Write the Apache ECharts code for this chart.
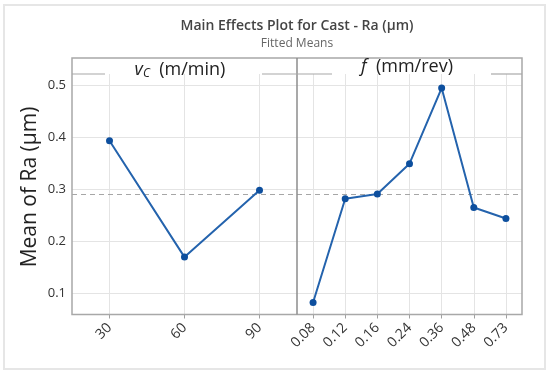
<!DOCTYPE html>
<html><head><meta charset="utf-8">
<script src="https://cdn.jsdelivr.net/npm/echarts@6/dist/echarts.min.js"></script>
<style>html,body{margin:0;padding:0;background:#fff}#c{width:550px;height:375px}</style>
</head><body><div id="c"></div>
<script>
const vcCategories = ['30', '60', '90'];
const vcMeans = [0.393, 0.170, 0.298];
const fCategories = ['0.08', '0.12', '0.16', '0.24', '0.36', '0.48', '0.73'];
const fMeans = [0.083, 0.282, 0.291, 0.349, 0.494, 0.265, 0.244];
const grandMean = 0.287;
const yTicks = [0.1, 0.2, 0.3, 0.4, 0.5];

const FONT = '"Open Sans", "Noto Sans", sans-serif';
const GRID_COLOR = '#e4e4e4';
const FRAME = '#a8a8a8';

function gridLines(categories) {
  const d = [];
  categories.forEach(c => d.push({ xAxis: c, lineStyle: { color: GRID_COLOR, width: 1, type: 'solid' } }));
  yTicks.forEach(v => d.push({ yAxis: v, lineStyle: { color: GRID_COLOR, width: 1, type: 'solid' } }));
  d.push({ yAxis: grandMean, lineStyle: { color: '#a6a6a6', width: 1.2, type: [5, 4] } });
  return d;
}

function xAxisFor(gi, cats) {
  return {
    type: 'category', gridIndex: gi, data: cats, boundaryGap: true,
    axisLine: { show: false },
    axisTick: { show: true, alignWithLabel: true, length: 4, lineStyle: { color: '#a0a0a0' } },
    axisLabel: { rotate: 45, fontSize: 14, color: '#333', fontFamily: FONT, margin: 11 },
    splitLine: { show: false }
  };
}
function yAxisFor(gi, showLabels) {
  return {
    type: 'value', gridIndex: gi, min: 0.06, max: 0.521, splitNumber: 5,
    axisLine: { show: false }, axisTick: { show: false },
    axisLabel: { show: showLabels, fontSize: 13, color: '#333', fontFamily: FONT, margin: 6,
      showMinLabel: false, showMaxLabel: false, formatter: v => v.toFixed(1) },
    splitLine: { show: false }
  };
}
function seriesFor(i, data, cats) {
  return {
    type: 'line', xAxisIndex: i, yAxisIndex: i, data: data, z: 3,
    symbol: 'circle', symbolSize: 7,
    lineStyle: { color: '#2463ad', width: 2 },
    itemStyle: { color: '#0d4f9e' },
    silent: true,
    markLine: { silent: true, z: 1, symbol: ['none', 'none'], label: { show: false }, animation: false,
      data: gridLines(cats) }
  };
}

const chart = echarts.init(document.getElementById('c'), null, { renderer: 'canvas' });
chart.setOption({
  animation: false,
  backgroundColor: '#fff',
  grid: [
    { left: 72, right: 253, top: 74, bottom: 60.5, show: false },
    { left: 297, right: 28, top: 74, bottom: 60.5, show: false }
  ],
  xAxis: [xAxisFor(0, vcCategories), xAxisFor(1, fCategories)],
  yAxis: [yAxisFor(0, true), yAxisFor(1, false)],
  series: [seriesFor(0, vcMeans, vcCategories), seriesFor(1, fMeans, fCategories)],
  graphic: [
    { type: 'rect', silent: true, z: -1, shape: { x: 4, y: 5, width: 541, height: 364 },
      style: { fill: 'none', stroke: '#e6e6e6', lineWidth: 2 } },
    { type: 'rect', silent: true, z: 10, shape: { x: 72, y: 58, width: 450, height: 256.5 },
      style: { fill: 'none', stroke: FRAME, lineWidth: 1.5 } },
    { type: 'line', silent: true, z: 10, shape: { x1: 297, y1: 58, x2: 297, y2: 314.5 },
      style: { stroke: '#8c8c8c', lineWidth: 1.5 } },
    { type: 'line', silent: true, z: 10, shape: { x1: 72, y1: 74, x2: 105, y2: 74 }, style: { stroke: FRAME, lineWidth: 1.2 } },
    { type: 'line', silent: true, z: 10, shape: { x1: 262, y1: 74, x2: 297, y2: 74 }, style: { stroke: FRAME, lineWidth: 1.2 } },
    { type: 'line', silent: true, z: 10, shape: { x1: 297, y1: 74, x2: 332, y2: 74 }, style: { stroke: FRAME, lineWidth: 1.2 } },
    { type: 'line', silent: true, z: 10, shape: { x1: 491, y1: 74, x2: 522, y2: 74 }, style: { stroke: FRAME, lineWidth: 1.2 } },
    { type: 'text', silent: true, z: 11, x: 297, y: 26,
      style: { text: 'Main Effects Plot for Cast - Ra (µm)', fill: '#444', font: '600 14px ' + FONT, align: 'center', verticalAlign: 'middle' } },
    { type: 'text', silent: true, z: 11, x: 297, y: 44,
      style: { text: 'Fitted Means', fill: '#666', font: '12px ' + FONT, align: 'center', verticalAlign: 'middle' } },
    { type: 'text', silent: true, z: 11, x: 180, y: 70,
      style: { text: '{v|v}{c|C}{n|  (m/min)}', align: 'center', verticalAlign: 'middle',
        rich: {
          v: { font: 'italic 18px ' + FONT, fill: '#222', lineHeight: 20 },
          c: { font: 'italic 12px ' + FONT, fill: '#222', lineHeight: 10, verticalAlign: 'bottom' },
          n: { font: '18px ' + FONT, fill: '#222', lineHeight: 20 }
        } } },
    { type: 'text', silent: true, z: 11, x: 407, y: 67,
      style: { text: '{v|f}{n|  (mm/rev)}', align: 'center', verticalAlign: 'middle',
        rich: {
          v: { font: 'italic 18px ' + FONT, fill: '#222', lineHeight: 20 },
          n: { font: '18px ' + FONT, fill: '#222', lineHeight: 20 }
        } } },
    { type: 'text', silent: true, z: 11, x: 30, y: 187, rotation: Math.PI / 2,
      style: { text: 'Mean of Ra (μm)', fill: '#222', font: '21px ' + FONT, align: 'center', verticalAlign: 'middle' } }
  ]
});
</script></body></html>
